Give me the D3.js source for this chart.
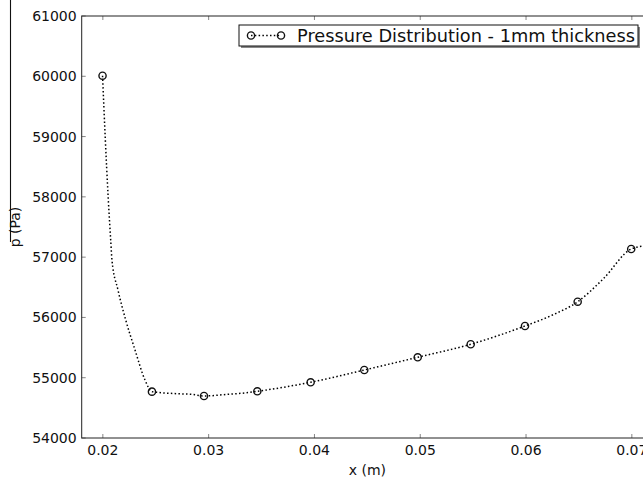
<!DOCTYPE html>
<html>
<head>
<meta charset="utf-8">
<script src="https://cdn.jsdelivr.net/npm/d3@7"></script>
<style>
  body { margin: 0; background: #fff; }
  svg { display: block; font-family: "DejaVu Sans", sans-serif; }
</style>
</head>
<body>
<div id="chart"></div>
<script>
// curve (x in m, p in Pa)
var curveX = [0.01997, 0.02022, 0.0205, 0.02074, 0.02086, 0.02143, 0.02216, 0.02304, 0.02398, 0.02464,
              0.0270, 0.0285, 0.02956, 0.0320, 0.0334, 0.0346, 0.03964, 0.04471, 0.04976, 0.05477,
              0.0599, 0.0625, 0.06488, 0.0673, 0.06994, 0.0712];
var curveY = [60010, 59000, 58000, 57285, 56953, 56455, 55958, 55460, 54963, 54769,
              54735, 54722, 54697, 54728, 54747, 54775, 54924, 55128, 55339, 55555,
              55858, 56040, 56261, 56640, 57135, 57185];
// circle markers
var markX = [0.01997, 0.02464, 0.02956, 0.0346, 0.03964, 0.04471, 0.04976, 0.05477, 0.0599, 0.06488, 0.06994];
var markY = [60010, 54769, 54697, 54775, 54924, 55128, 55339, 55555, 55858, 56261, 57135];

var xTicks = [0.02, 0.03, 0.04, 0.05, 0.06, 0.07];
var yTicks = [54000, 55000, 56000, 57000, 58000, 59000, 60000, 61000];
var seriesName = "Pressure Distribution - 1mm thickness";

var margin = {top: 16, left: 81.7},
  plotW = 571.3,
  plotH = 422;

var svg = d3.select("#chart")
  .append("svg")
  .attr("width", 643)
  .attr("height", 479);

var g = svg.append("g")
  .attr("transform", "translate(" + margin.left + "," + margin.top + ")");

var x = d3.scaleLinear().domain([0.018, 0.072]).range([0, plotW]);
var y = d3.scaleLinear().domain([54000, 61000]).range([plotH, 0]);

// ticks inside the frame
g.selectAll(".xt").data(xTicks).enter().append("line")
  .attr("x1", d => x(d)).attr("x2", d => x(d))
  .attr("y1", plotH).attr("y2", plotH - 4)
  .attr("stroke", "#666").attr("stroke-width", 0.8);
g.selectAll(".xtt").data(xTicks).enter().append("line")
  .attr("x1", d => x(d)).attr("x2", d => x(d))
  .attr("y1", 0).attr("y2", 4)
  .attr("stroke", "#666").attr("stroke-width", 0.8);
g.selectAll(".yt").data(yTicks).enter().append("line")
  .attr("x1", 0).attr("x2", 4)
  .attr("y1", d => y(d)).attr("y2", d => y(d))
  .attr("stroke", "#666").attr("stroke-width", 0.8);

// frame
g.append("rect")
  .attr("x", 0).attr("y", 0)
  .attr("width", plotW).attr("height", plotH)
  .attr("fill", "none").attr("stroke", "#222").attr("stroke-width", 1);

// tick labels
g.selectAll(".xl").data(xTicks).enter().append("text")
  .attr("x", d => x(d)).attr("y", plotH + 17)
  .attr("text-anchor", "middle")
  .attr("font-size", "14px").attr("fill", "#111")
  .text(d => d3.format(".2f")(d));
g.selectAll(".yl").data(yTicks).enter().append("text")
  .attr("x", -5).attr("y", d => y(d))
  .attr("dy", "0.36em")
  .attr("text-anchor", "end")
  .attr("font-size", "14px").attr("fill", "#111")
  .text(d => d);

// axis titles
g.append("text")
  .attr("x", plotW / 2).attr("y", plotH + 37)
  .attr("text-anchor", "middle")
  .attr("font-size", "14px").attr("fill", "#111")
  .text("x (m)");
svg.append("text")
  .attr("transform", "translate(20," + (margin.top + plotH / 2) + ") rotate(-90)")
  .attr("text-anchor", "middle")
  .attr("font-size", "14px").attr("fill", "#111")
  .text("p (Pa)");
// the overline of p-bar, drawn long as in the picture
svg.append("line")
  .attr("x1", 10.5).attr("x2", 10.5)
  .attr("y1", 0).attr("y2", 242)
  .attr("stroke", "#111").attr("stroke-width", 1.1);

// data
var pts = curveX.map((d, i) => [d, curveY[i]]);
var line = d3.line()
  .x(d => x(d[0])).y(d => y(d[1]))
  .curve(d3.curveMonotoneX);

g.append("path")
  .datum(pts)
  .attr("d", line)
  .attr("fill", "none")
  .attr("stroke", "#000")
  .attr("stroke-width", 1.5)
  .attr("stroke-dasharray", "1.5,2.3");

g.selectAll(".mk").data(markX).enter().append("circle")
  .attr("cx", d => x(d))
  .attr("cy", (d, i) => y(markY[i]))
  .attr("r", 3.6)
  .attr("fill", "none")
  .attr("stroke", "#111")
  .attr("stroke-width", 1.4);

// legend
var lg = svg.append("g");
lg.append("rect")
  .attr("x", 241).attr("y", 27).attr("width", 399).attr("height", 21)
  .attr("fill", "#888");
lg.append("rect")
  .attr("x", 239).attr("y", 25).attr("width", 399).attr("height", 21)
  .attr("fill", "#fff").attr("stroke", "#111").attr("stroke-width", 1);
lg.append("line")
  .attr("x1", 251).attr("x2", 281).attr("y1", 35.5).attr("y2", 35.5)
  .attr("stroke", "#000").attr("stroke-width", 1.5)
  .attr("stroke-dasharray", "1.5,2.3");
lg.selectAll(".lm").data([251, 281]).enter().append("circle")
  .attr("cx", d => d).attr("cy", 35.5).attr("r", 3.6)
  .attr("fill", "none").attr("stroke", "#111").attr("stroke-width", 1.4);
lg.append("text")
  .attr("x", 297).attr("y", 42)
  .attr("font-size", "17px").attr("fill", "#111")
  .attr("textLength", 338)
  .attr("lengthAdjust", "spacingAndGlyphs")
  .text(seriesName);
</script>
</body>
</html>
